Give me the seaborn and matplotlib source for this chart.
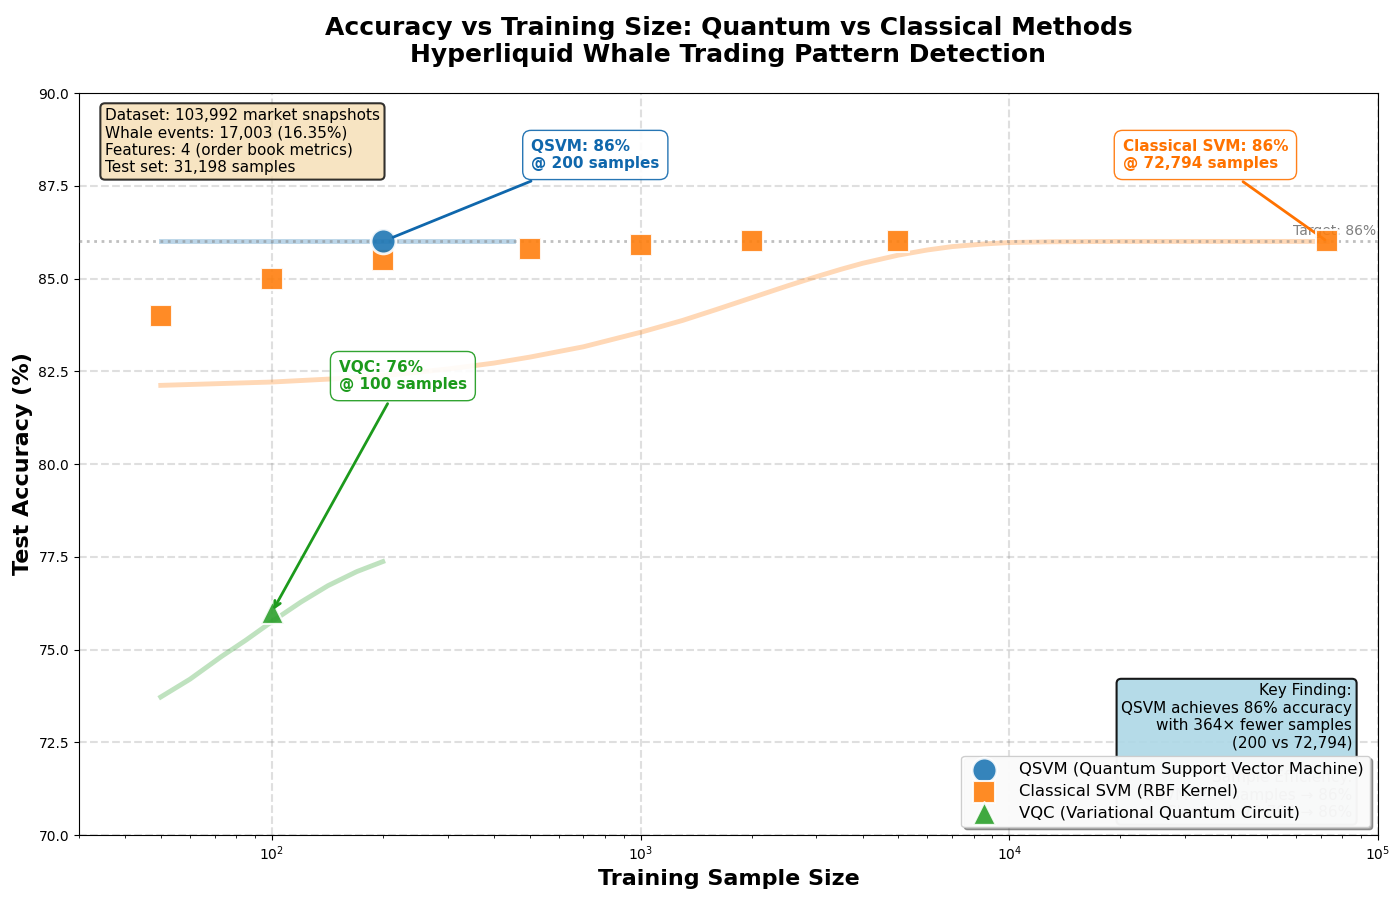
import numpy as np
import pandas as pd
import matplotlib
matplotlib.use("Agg")
import matplotlib.pyplot as plt
import seaborn as sns

# ---------------- data ----------------
qsvm_sizes = [200]
qsvm_acc = [86.0]

classical_sizes = [50, 100, 200, 500, 1000, 2000, 5000, 72794]
classical_acc = [84.0, 85.0, 85.5, 85.8, 85.9, 86.0, 86.0, 86.0]

vqc_sizes = [100]
vqc_acc = [76.0]

# trend curves
qsvm_fit_x = [50, 450]
qsvm_fit_y = [86.0, 86.0]

classical_fit_x = [50, 100, 150, 220, 300, 400, 500, 700, 1000, 1300, 1600, 2000,
                   2500, 3000, 3500, 4000, 5000, 6000, 7000, 8500, 10000, 13000,
                   20000, 72794]
classical_fit_y = [82.12, 82.21, 82.30, 82.42, 82.56, 82.72, 82.88, 83.16, 83.55, 83.87,
                   84.16, 84.48, 84.80, 85.05, 85.25, 85.41, 85.63, 85.77, 85.86, 85.93,
                   85.97, 85.99, 86.0, 86.0]

vqc_fit_x = [50, 60, 73, 85, 100, 120, 142, 170, 200]
vqc_fit_y = [73.72, 74.20, 74.81, 75.25, 75.75, 76.28, 76.72, 77.10, 77.37]

target_acc = 86.0

labels = ["QSVM (Quantum Support Vector Machine)",
          "Classical SVM (RBF Kernel)",
          "VQC (Variational Quantum Circuit)"]

c_q, c_c, c_v = "#1f77b4", "#ff7f0e", "#2ca02c"
t_q, t_c, t_v = "#0f67ac", "#ff7200", "#1c9a1c"

# ---------------- plot ----------------
plt.rcParams['font.family'] = ['DejaVu Sans']

fig = plt.figure(figsize=(14, 8.97), dpi=100)
ax = fig.add_axes([0.0564, 0.0691, 0.9279, 0.8272])

ax.set_xscale("log")

# trend lines
sns.lineplot(x=qsvm_fit_x, y=qsvm_fit_y, ax=ax, color=c_q, lw=3.5, alpha=0.3,
             legend=False, zorder=2)
sns.lineplot(x=classical_fit_x, y=classical_fit_y, ax=ax, color=c_c, lw=3.5, alpha=0.3,
             legend=False, zorder=2, sort=False)
sns.lineplot(x=vqc_fit_x, y=vqc_fit_y, ax=ax, color=c_v, lw=3.5, alpha=0.3,
             legend=False, zorder=2, sort=False)

# target line
ax.axhline(target_acc, color="gray", ls=":", lw=2, alpha=0.5, zorder=3)
ax.text(9.9e4, target_acc + 0.1, "Target: 86%", ha="right", va="bottom",
        fontsize=10, color="gray")

# points
sns.scatterplot(x=qsvm_sizes, y=qsvm_acc, ax=ax, marker="o", s=320, color=c_q,
                edgecolor="white", linewidth=2, alpha=0.9, label=labels[0], zorder=5)
sns.scatterplot(x=classical_sizes, y=classical_acc, ax=ax, marker="s", s=230, color=c_c,
                edgecolor="white", linewidth=1.5, alpha=0.9, label=labels[1], zorder=4)
sns.scatterplot(x=vqc_sizes, y=vqc_acc, ax=ax, marker="^", s=270, color=c_v,
                edgecolor="white", linewidth=1.5, alpha=0.9, label=labels[2], zorder=5)

# annotations
ax.annotate("QSVM: 86%\n@ 200 samples", xy=(200, 86.0), xytext=(505, 88.33),
            fontsize=11, fontweight="bold", color=t_q, ha="left", va="center",
            bbox=dict(boxstyle="round,pad=0.55", facecolor="white", edgecolor=t_q, alpha=0.9),
            arrowprops=dict(arrowstyle="-", color=t_q, lw=2, shrinkB=8), zorder=6)
ax.annotate("Classical SVM: 86%\n@ 72,794 samples", xy=(72794, 86.0), xytext=(20300, 88.33),
            fontsize=11, fontweight="bold", color=t_c, ha="left", va="center",
            bbox=dict(boxstyle="round,pad=0.55", facecolor="white", edgecolor=t_c, alpha=0.9),
            arrowprops=dict(arrowstyle="-", color=t_c, lw=2, shrinkB=2), zorder=3)
ax.annotate("VQC: 76%\n@ 100 samples", xy=(100, 76.0), xytext=(152, 82.37),
            fontsize=11, fontweight="bold", color=t_v, ha="left", va="center",
            bbox=dict(boxstyle="round,pad=0.55", facecolor="white", edgecolor=t_v, alpha=0.9),
            arrowprops=dict(arrowstyle="->", color=t_v, lw=2), zorder=6)

# info boxes
ax.text(0.02, 0.98,
        "Dataset: 103,992 market snapshots\nWhale events: 17,003 (16.35%)\n"
        "Features: 4 (order book metrics)\nTest set: 31,198 samples",
        transform=ax.transAxes, ha="left", va="top", fontsize=11,
        bbox=dict(boxstyle="round", facecolor="wheat", edgecolor="black", lw=1.5, alpha=0.8),
        zorder=6)
ax.text(0.98, 0.02,
        "Key Finding:\nQSVM achieves 86% accuracy\nwith 364\u00d7 fewer samples\n(200 vs 72,794)\n\n"
        "Sample Efficiency:\nQSVM: 200 samples \u2192 86%\nClassical: 72,794 \u2192 86%",
        transform=ax.transAxes, ha="right", va="bottom", fontsize=11,
        bbox=dict(boxstyle="round", facecolor="lightblue", edgecolor="black", lw=1.5, alpha=0.9),
        zorder=6)

ax.set_xlim(30, 1e5)
ax.set_ylim(70, 90)
ax.set_yticks([70, 72.5, 75, 77.5, 80, 82.5, 85, 87.5, 90])
ax.set_yticklabels(["70.0", "72.5", "75.0", "77.5", "80.0", "82.5", "85.0", "87.5", "90.0"])
ax.tick_params(labelsize=10)
ax.grid(True, which="major", ls="--", lw=1.5, color="gray", alpha=0.25)
ax.set_axisbelow(True)

ax.set_xlabel("Training Sample Size", fontsize=16, fontweight="bold")
ax.set_ylabel("Test Accuracy (%)", fontsize=16, fontweight="bold")
ax.set_title("Accuracy vs Training Size: Quantum vs Classical Methods\n"
             "Hyperliquid Whale Trading Pattern Detection",
             fontsize=18, fontweight="bold", pad=22)

leg = ax.legend(loc="lower right", fontsize=11.75, shadow=True, framealpha=0.95,
                fancybox=True, markerscale=1.0, labelspacing=0.4, handletextpad=1.1)
leg.set_zorder(10)

fig.savefig("out.png", dpi=100)
